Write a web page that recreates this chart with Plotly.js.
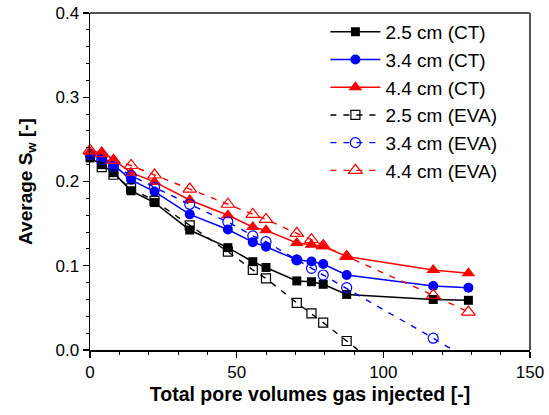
<!DOCTYPE html>
<html>
<head>
<meta charset="utf-8">
<script src="https://cdn.plot.ly/plotly-3.0.1.min.js"></script>
<style>html,body{margin:0;padding:0;background:#fff;}#chart{width:549px;height:415px;}</style>
</head>
<body>
<div id="chart"></div>
<script>
// Data
const pvCT = [0, 4, 8, 14, 22, 34, 47, 55.5, 60, 70.5, 75.5, 79.5, 87.5, 117, 129];
const sw25CT = [0.228, 0.220, 0.2105, 0.189, 0.175, 0.1424, 0.1215, 0.1048, 0.098, 0.082, 0.081, 0.078, 0.066, 0.060, 0.059];
const sw34CT = [0.231, 0.229, 0.220, 0.202, 0.188, 0.161, 0.143, 0.128, 0.1226, 0.107, 0.105, 0.102, 0.089, 0.076, 0.074];
const sw44CT = [0.235, 0.235, 0.226, 0.2105, 0.1995, 0.178, 0.160, 0.146, 0.142, 0.127, 0.125, 0.123, 0.111, 0.095, 0.091];

const pvEVA25 = [0, 4, 8, 14, 22, 34, 47, 55.5, 60, 70.5, 75.5, 79.5, 87.5, 117];
const sw25EVA = [0.230, 0.217, 0.208, 0.192, 0.177, 0.148, 0.1167, 0.095, 0.085, 0.056, 0.0435, 0.0325, 0.0107, -0.07];
const pvEVA34 = [0, 4, 8, 14, 22, 34, 47, 55.5, 60, 70.5, 75.5, 79.5, 87.5, 117, 129];
const sw34EVA = [0.232, 0.226, 0.218, 0.207, 0.193, 0.173, 0.152, 0.1355, 0.1286, 0.107, 0.097, 0.089, 0.074, 0.014, -0.011];
const pvEVA44 = [0, 4, 8, 14, 22, 34, 47, 55.5, 60, 70.5, 75.5, 79.5, 87.5, 117, 129];
const sw44EVA = [0.237, 0.233, 0.225, 0.219, 0.2077, 0.191, 0.173, 0.161, 0.155, 0.1385, 0.131, 0.124, 0.111, 0.065, 0.045];

const names = ['2.5 cm (CT)', '3.4 cm (CT)', '4.4 cm (CT)', '2.5 cm (EVA)', '3.4 cm (EVA)', '4.4 cm (EVA)'];

const dashPat = '6px,7px';
function tr(x, y, name, color, symbol, size, dashed, clip, g) {
  return {
    x: x, y: y, name: name, type: 'scatter', mode: 'lines+markers',
    legendgroup: g, cliponaxis: clip,
    line: {color: color, width: dashed ? 1.4 : 1.5, dash: dashed ? dashPat : 'solid'},
    marker: {color: color, symbol: symbol, size: size, line: {color: color, width: dashed ? 1.2 : 0}}
  };
}
const data = [
  tr(pvCT, sw25CT, names[0], '#000000', 'square', 9, false, false, 'a'),
  tr(pvCT, sw34CT, names[1], '#0000FF', 'circle', 10, false, false, 'b'),
  tr(pvCT, sw44CT, names[2], '#FF0000', 'triangle-up', 12, false, false, 'c'),
  tr(pvEVA25, sw25EVA, names[3], '#000000', 'square-open', 9, true, true, 'd'),
  tr(pvEVA34, sw34EVA, names[4], '#0000FF', 'circle-open', 10, true, true, 'e'),
  tr(pvEVA44, sw44EVA, names[5], '#FF0000', 'triangle-up-open', 12, true, false, 'f')
];

const font = 'Liberation Sans, Arial, sans-serif';
const layout = {
  width: 549, height: 415,
  margin: {l: 90, r: 19, t: 13, b: 65},
  paper_bgcolor: '#fff', plot_bgcolor: '#fff',
  font: {family: font, size: 17, color: '#000'},
  showlegend: true,
  hovermode: false,
  legend: {
    x: 0.535, y: 1.0, xanchor: 'left', yanchor: 'top',
    bgcolor: 'rgba(0,0,0,0)', borderwidth: 0,
    font: {family: font, size: 19, color: '#000'},
    tracegroupgap: 0, itemwidth: 50
  },
  shapes: [
    {type: 'line', xref: 'paper', yref: 'paper', x0: 0, x1: 1, y0: 1, y1: 1, line: {color: '#555', width: 2}},
    {type: 'line', xref: 'paper', yref: 'paper', x0: 1, x1: 1, y0: 0, y1: 1, line: {color: '#555', width: 2}}
  ],
  xaxis: {
    range: [0, 150], dtick: 50, tick0: 0,
    showgrid: false, zeroline: false,
    showline: true, linecolor: '#000', linewidth: 1.5, mirror: false,
    ticks: 'outside', ticklen: 6, tickwidth: 1.2, tickcolor: '#000',
    minor: {dtick: 10, ticks: 'outside', ticklen: 3, tickwidth: 1, tickcolor: '#000', showgrid: false},
    tickfont: {family: font, size: 17},
    title: {text: 'Total pore volumes gas injected [-]', font: {family: font, size: 19.5, weight: 'bold'}, standoff: 6}
  },
  yaxis: {
    range: [0, 0.4], dtick: 0.1, tick0: 0, tickformat: '.1f',
    showgrid: false, zeroline: false,
    showline: true, linecolor: '#000', linewidth: 1.5, mirror: false,
    ticks: 'outside', ticklen: 6, tickwidth: 1.2, tickcolor: '#000',
    minor: {dtick: 0.02, ticks: 'outside', ticklen: 3, tickwidth: 1, tickcolor: '#000', showgrid: false},
    tickfont: {family: font, size: 17},
    title: {text: 'Average S<sub>w</sub> [-]', font: {family: font, size: 19, weight: 'bold'}, standoff: 18}
  }
};

Plotly.newPlot('chart', data, layout, {staticPlot: true, displayModeBar: false});
</script>
</body>
</html>
